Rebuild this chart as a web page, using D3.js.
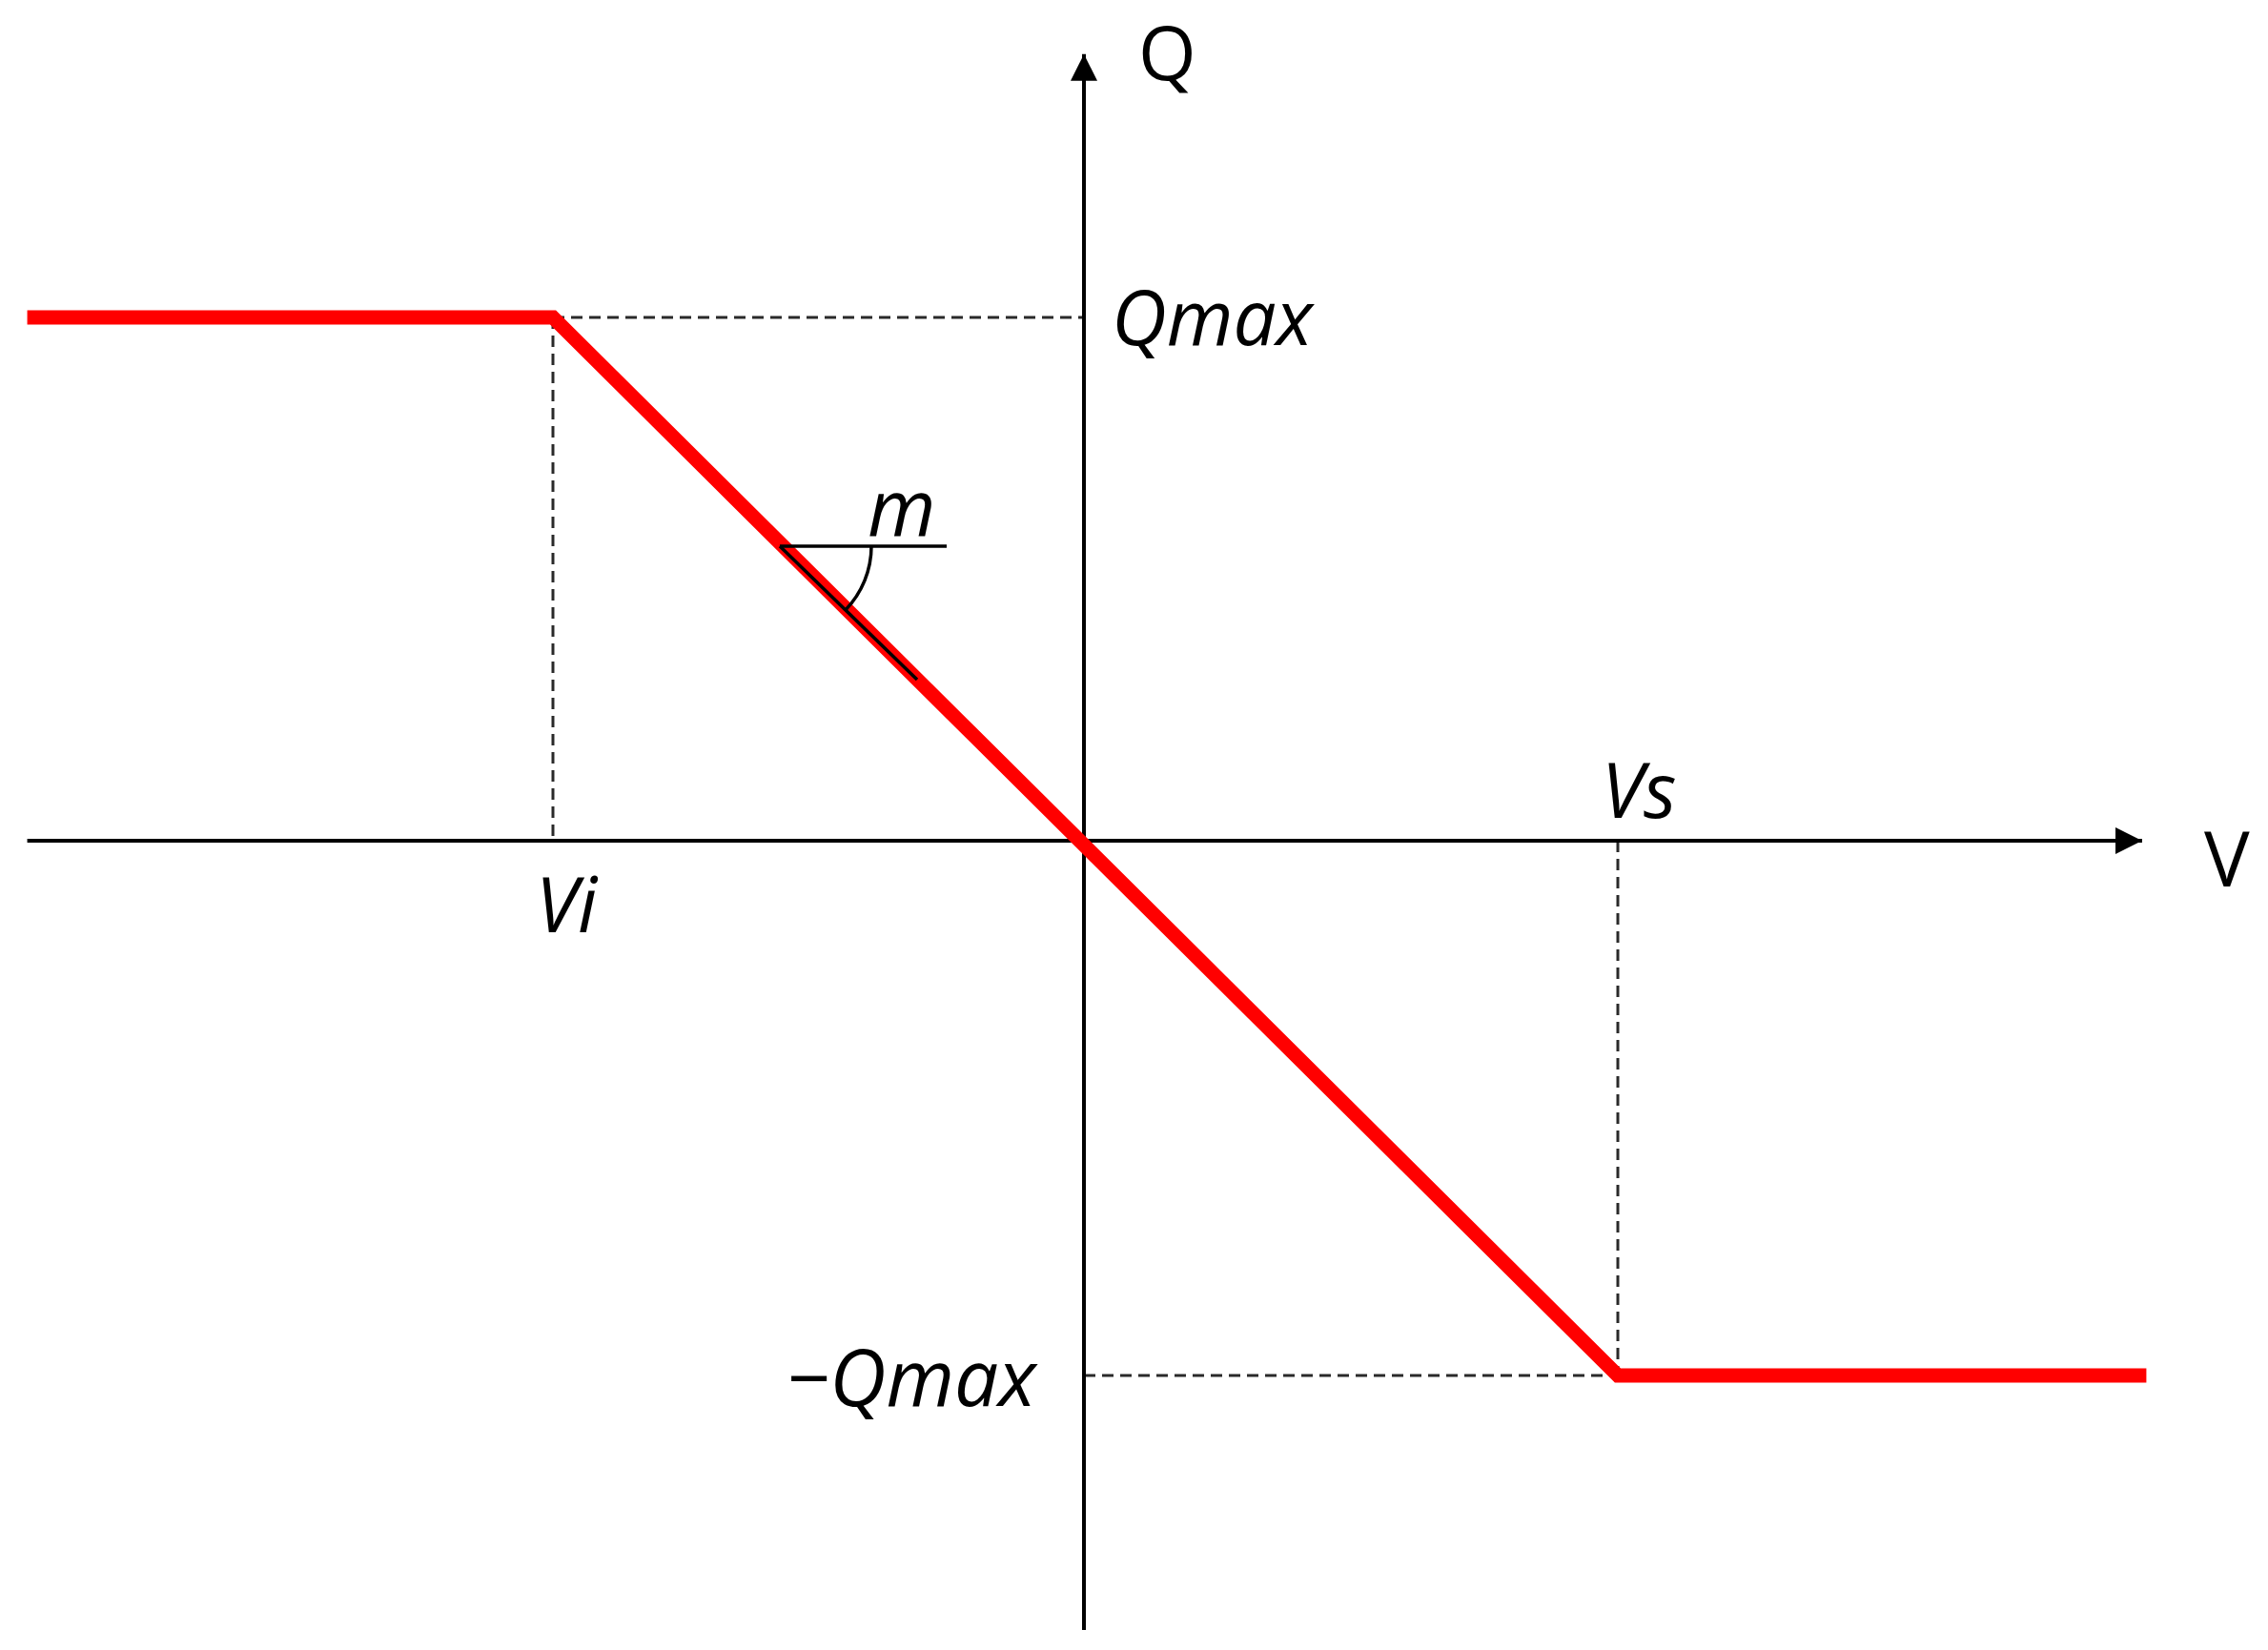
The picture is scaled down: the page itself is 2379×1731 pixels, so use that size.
<!DOCTYPE html>
<html>
<head>
<meta charset="utf-8">
<script src="https://cdn.jsdelivr.net/npm/d3@7"></script>
<style>
  html, body { margin: 0; padding: 0; background: #fff; }
  svg { display: block; }
  text { font-family: "Open Sans", "Noto Sans", sans-serif; fill: #000; }
</style>
</head>
<body>
<svg id="chart" width="2379" height="1731"></svg>
<script>
// ---- data (normalised units: Vi = -1, Vs = 1, Qmax = 1) ----
const vBreaks = [-1.99, -1, 1, 1.99];      // V at the curve's vertices
const qBreaks = [1, 1, -1, -1];            // Q at the curve's vertices
const Vi = -1, Vs = 1, Qmax = 1;
const xAxisExtent = [-1.99, 1.982];
const yAxisExtent = [-1.476, 1.503];
const axisNames = ["V", "Q"];
const tickLabels = { Vi: "Vi", Vs: "Vs", Qmax: "Qmax", negQmax: "\u2212Qmax" };
const slopeLabel = "m";

const svg = d3.select("#chart");

const x = d3.scaleLinear().domain([-1, 0, 1]).range([580, 1137, 1697]);
const y = d3.scaleLinear().domain([-1, 0, 1]).range([1443, 882, 333]);

// arrow markers
const defs = svg.append("defs");
defs.append("marker")
  .attr("id", "arrow")
  .attr("viewBox", "0 0 28 28")
  .attr("refX", 28).attr("refY", 14)
  .attr("markerWidth", 28).attr("markerHeight", 28)
  .attr("markerUnits", "userSpaceOnUse")
  .attr("orient", "auto")
  .append("path").attr("d", "M0,0 L28,14 L0,28 Z").attr("fill", "#000");

// dashed guide lines
const dash = "12,7";
const guides = [
  [[Vi, Qmax], [0, Qmax]],
  [[Vi, Qmax], [Vi, 0]],
  [[Vs, 0], [Vs, -Qmax]],
  [[0, -Qmax], [Vs, -Qmax]]
];
svg.append("g").selectAll("line").data(guides).join("line")
  .attr("x1", d => x(d[0][0])).attr("y1", d => y(d[0][1]))
  .attr("x2", d => x(d[1][0])).attr("y2", d => y(d[1][1]))
  .attr("stroke", "#2a2a2a").attr("stroke-width", 3)
  .attr("stroke-dasharray", dash);

// axes
svg.append("line")
  .attr("x1", x(xAxisExtent[0])).attr("y1", y(0))
  .attr("x2", x(xAxisExtent[1])).attr("y2", y(0))
  .attr("stroke", "#000").attr("stroke-width", 4)
  .attr("marker-end", "url(#arrow)");
svg.append("line")
  .attr("x1", x(0)).attr("y1", y(yAxisExtent[0]))
  .attr("x2", x(0)).attr("y2", y(yAxisExtent[1]))
  .attr("stroke", "#000").attr("stroke-width", 4)
  .attr("marker-end", "url(#arrow)");

// red characteristic
const pts = vBreaks.map((v, i) => [v, qBreaks[i]]);
svg.append("path")
  .datum(pts)
  .attr("d", d3.line().x(d => x(d[0])).y(d => y(d[1])))
  .attr("fill", "none")
  .attr("stroke", "#ff0000")
  .attr("stroke-width", 15)
  .attr("stroke-linejoin", "miter");

// slope annotation m
const ax0 = 818, ay0 = 573;
const g = svg.append("g").attr("stroke", "#000").attr("fill", "none").attr("stroke-width", 3.5);
g.append("line").attr("x1", ax0).attr("y1", ay0).attr("x2", 993).attr("y2", ay0);
g.append("line").attr("x1", ax0).attr("y1", ay0).attr("x2", 962).attr("y2", 713);
const r = 96;
const ang = Math.atan2(713 - 573, 962 - 818);
g.append("path").attr("d",
  `M${ax0 + r},${ay0} A${r},${r} 0 0 1 ${ax0 + r * Math.cos(ang)},${ay0 + r * Math.sin(ang)}`);

// labels
const labels = [
  { t: axisNames[1], x: 1194, y: 84, it: false, s: 78 },
  { t: axisNames[0], x: 2312, y: 930, it: false, s: 80 },
  { t: tickLabels.Qmax, x: 1166, y: 362, it: true, s: 80 },
  { t: tickLabels.negQmax, x: 825, y: 1475, it: true, s: 82 },
  { t: tickLabels.Vs, x: 1680, y: 858, it: true, s: 80 },
  { t: tickLabels.Vi, x: 562, y: 978, it: true, s: 80 },
  { t: slopeLabel, x: 910, y: 562, it: true, s: 82 }
];
svg.append("g").selectAll("text").data(labels).join("text")
  .attr("x", d => d.x).attr("y", d => d.y)
  .attr("font-size", d => d.s)
  .attr("font-style", d => d.it ? "italic" : "normal")
  .text(d => d.t);
</script>
</body>
</html>
